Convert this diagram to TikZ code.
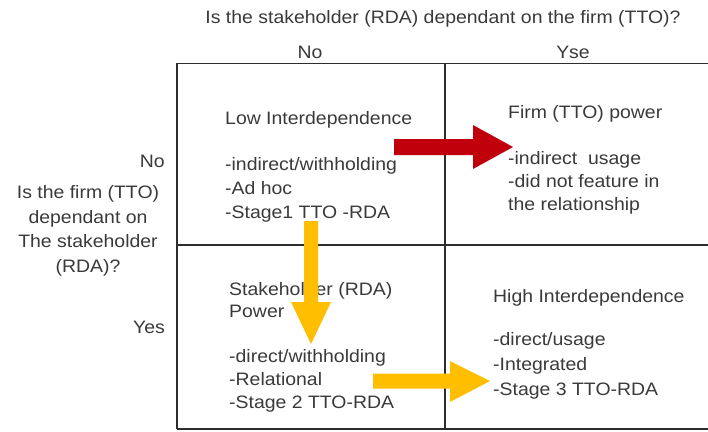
\documentclass[tikz,border=0pt]{standalone}
\usepackage{fontspec}
\setmainfont{Liberation Sans}[FakeStretch=1.08]
\definecolor{txtgray}{RGB}{58,58,58}
\definecolor{linegray}{RGB}{45,45,45}
\definecolor{arrred}{RGB}{192,0,10}
\definecolor{arryel}{RGB}{255,190,0}
\begin{document}
\begin{tikzpicture}[x=1pt,y=-1pt,
  txt/.style={font=\fontsize{18}{23}\selectfont, text=txtgray, inner sep=0pt},
  lft/.style={txt, anchor=base west},
  ctr/.style={txt, anchor=base},
  rgt/.style={txt, anchor=base east},
  gridline/.style={draw=linegray, line width=1.3pt},
  blockarrow/.style={fill=#1, draw=none}]
\useasboundingbox (0,0) rectangle (708,431);
\fill[white] (0,0) rectangle (708,431);
% grid
\draw[gridline] (177,429) -- (177,63.5) -- (712,63.5);
\draw[gridline] (177,429) -- (712,429);
\draw[gridline] (445,63.5) -- (445,429);
\draw[gridline] (177,245) -- (712,245);
% headings
\node[ctr] (title) at (443,23) {Is the stakeholder (RDA) dependant on the firm (TTO)?};
\node[ctr] (colno) at (310,58) {No};
\node[ctr] (colyes) at (573,58) {Yse};
\node[rgt] (rowno) at (165,167) {No};
\node[ctr] (q1) at (88,198) {Is the firm (TTO)};
\node[ctr] (q2) at (88,223) {dependant on};
\node[ctr] (q3) at (88,247) {The stakeholder};
\node[ctr] (q4) at (88,272) {(RDA)?};
\node[rgt] (rowyes) at (165,333) {Yes};
% top left
\node[lft] (tl1) at (225,124) {Low Interdependence};
\node[lft] (tl2) at (225,170) {-indirect/withholding};
\node[lft] (tl3) at (225,194) {-Ad hoc};
\node[lft] (tl4) at (225,218) {-Stage1 TTO -RDA};
% top right
\node[lft] (tr1) at (508,118) {Firm (TTO) power};
\node[lft] (tr2) at (508,164) {-indirect\ \ usage};
\node[lft] (tr3) at (508,187) {-did not feature in};
\node[lft] (tr4) at (508,210) {the relationship};
% bottom left
\node[lft] (bl1) at (229,295) {Stakeholder (RDA)};
\node[lft] (bl2) at (229,317) {Power};
\node[lft] (bl3) at (229,362) {-direct/withholding};
\node[lft] (bl4) at (229,385) {-Relational};
\node[lft] (bl5) at (229,408) {-Stage 2 TTO-RDA};
% bottom right
\node[lft] (br1) at (493,302) {High Interdependence};
\node[lft] (br2) at (493,345) {-direct/usage};
\node[lft] (br3) at (493,370) {-Integrated};
\node[lft] (br4) at (493,395) {-Stage 3 TTO-RDA};
% arrows
\coordinate (redtail) at (394,147);
\coordinate (redtip) at (513,147);
\fill[blockarrow=arrred] (394,139) -- (473,139) -- (473,125) -- (redtip) -- (473,169) -- (473,155) -- (394,155) -- cycle;
\coordinate (ytail) at (311,221);
\coordinate (ytip) at (311,344);
\fill[blockarrow=arryel] (304,221) -- (318,221) -- (318,302) -- (331,302) -- (ytip) -- (291,302) -- (304,302) -- cycle;
\coordinate (htail) at (373,381);
\coordinate (htip) at (490,381);
\fill[blockarrow=arryel] (373,373.5) -- (450,373.5) -- (450,361) -- (htip) -- (450,402) -- (450,388.5) -- (373,388.5) -- cycle;
\end{tikzpicture}
\end{document}
